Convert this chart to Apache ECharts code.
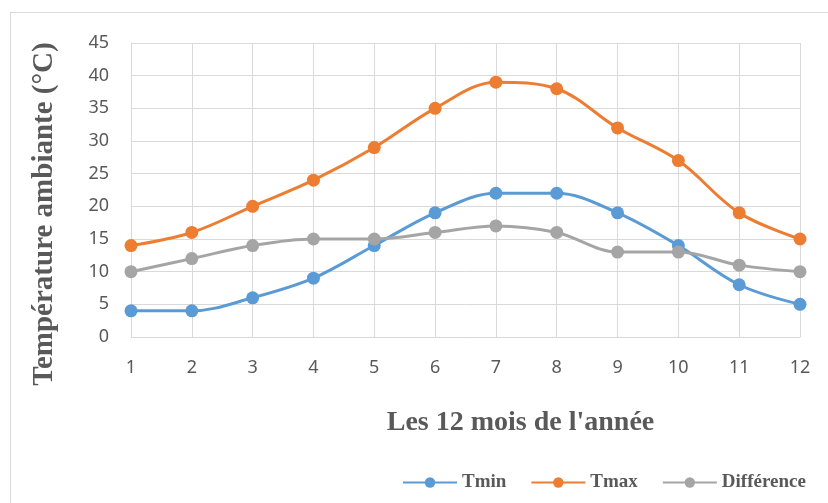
<!DOCTYPE html>
<html><head><meta charset="utf-8">
<script src="https://cdn.jsdelivr.net/npm/echarts@6/dist/echarts.min.js"></script>
<style>html,body{margin:0;padding:0;background:#fff}#c{width:828px;height:503px}
#frame{position:absolute;left:10px;top:12px;width:830px;height:500px;border:1px solid #d9d9d9;pointer-events:none}</style>
</head><body><div id="c"></div><div id="frame"></div>
<script>
const months = ['1','2','3','4','5','6','7','8','9','10','11','12'];
const tmin = [4,4,6,9,14,19,22,22,19,14,8,5];
const tmax = [14,16,20,24,29,35,39,38,32,27,19,15];
const diff = [10,12,14,15,15,16,17,16,13,13,11,10];
const colors = ['#5b9bd5','#ed7d31','#a5a5a5'];
const chart = echarts.init(document.getElementById('c'));
const mk = (name, data, color) => ({
  name, type:'line', data, smooth:0.35, symbol:'circle', symbolSize:13,
  lineStyle:{width:3,color}, itemStyle:{color}, z: 3
});
chart.setOption({
  animation:false,
  grid:{left:131,right:28,top:43,bottom:166,containLabel:false},
  xAxis:{type:'category',data:months,boundaryGap:false,
    name:"Les 12 mois de l'année",nameLocation:'middle',nameGap:72,
    nameTextStyle:{fontFamily:'Liberation Serif',fontWeight:'bold',fontSize:28,color:'#595959',padding:[0,0,0,110]},
    axisLine:{lineStyle:{color:'#d9d9d9'}},axisTick:{show:false},
    axisLabel:{fontFamily:'Noto Sans',fontSize:18,color:'#595959',margin:22},
    splitLine:{show:true,lineStyle:{color:'#d9d9d9'}}},
  yAxis:{type:'value',min:0,max:45,interval:5,
    name:'Température ambiante (°C)',nameLocation:'middle',nameGap:72,
    nameTextStyle:{fontFamily:'Liberation Serif',fontWeight:'bold',fontSize:29,color:'#595959',padding:[0,0,0,-48]},
    axisLine:{show:true,lineStyle:{color:'#d9d9d9'}},axisTick:{show:false},
    axisLabel:{fontFamily:'Noto Sans',fontSize:18,color:'#595959',margin:22},
    splitLine:{lineStyle:{color:'#d9d9d9'}}},
  legend:{data:['Tmin','Tmax','Différence'],left:397,top:468,itemWidth:54,itemHeight:13,itemGap:24,
    textStyle:{fontFamily:'Liberation Serif',fontWeight:'bold',fontSize:19,color:'#595959'}},
  series:[mk('Tmin',tmin,colors[0]),mk('Tmax',tmax,colors[1]),mk('Différence',diff,colors[2])]
});
</script></body></html>
